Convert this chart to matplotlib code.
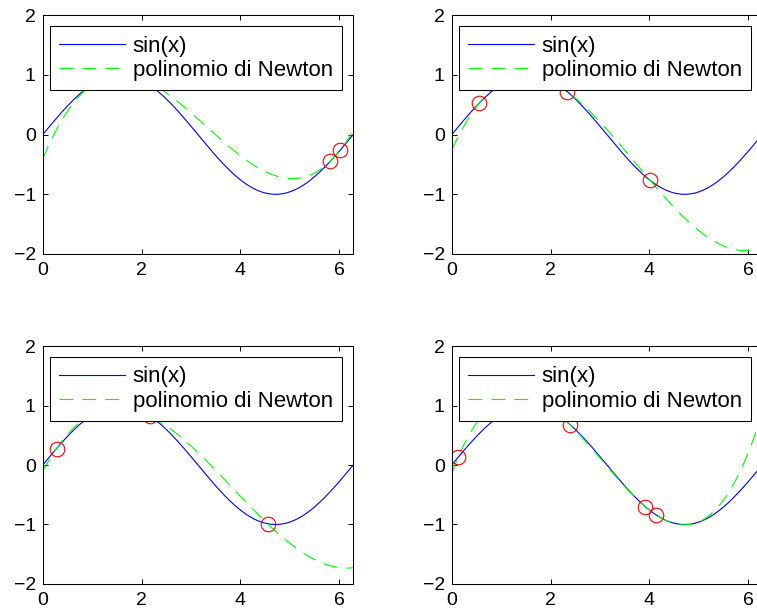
import numpy as np
import matplotlib
matplotlib.use("Agg")
import matplotlib.pyplot as plt

plt.rcParams['font.family'] = ['Liberation Sans', 'DejaVu Sans']
plt.rcParams['lines.scale_dashes'] = False

# nodi di interpolazione per ciascun grafico (le ordinate sono sin(x))
nodi_1 = [1.15, 1.6, 5.82, 6.02]
nodi_2 = [0.55, 1.42, 2.34, 4.01]
nodi_3 = [0.28, 1.15, 2.17, 4.55]
nodi_4 = [0.133, 2.40, 3.92, 4.13]
tutti_nodi = [nodi_1, nodi_2, nodi_3, nodi_4]

etichette = ["sin(x)", "polinomio di Newton"]
xticks = [0, 2, 4, 6]
yticks = [-2, -1, 0, 1, 2]


def differenze_divise(xn, yn):
    c = np.array(yn, dtype=float)
    n = len(xn)
    for j in range(1, n):
        c[j:] = (c[j:] - c[j - 1:-1]) / (xn[j:] - xn[:n - j])
    return c


def newton_eval(c, xn, x):
    p = np.full_like(x, c[-1])
    for k in range(len(c) - 2, -1, -1):
        p = p * (x - xn[k]) + c[k]
    return p


x = np.linspace(0, 2 * np.pi, 500)

fig = plt.figure(figsize=(7.57, 6.11), dpi=100)
# posizioni [left, bottom, width, height] in frazioni della figura
posizioni = [
    [0.0564, 0.5843, 0.4102, 0.3907],
    [0.5967, 0.5843, 0.4102, 0.3907],
    [0.0564, 0.0442, 0.4102, 0.3895],
    [0.5967, 0.0442, 0.4102, 0.3895],
]

for pos, nodi in zip(posizioni, tutti_nodi):
    ax = fig.add_axes(pos)
    xn = np.array(nodi)
    yn = np.sin(xn)
    c = differenze_divise(xn, yn)

    ax.plot(x, np.sin(x), color='#0000ff', lw=0.8, label=etichette[0])
    ax.plot(x, newton_eval(c, xn, x), color='#00ff00', lw=0.8,
            dashes=(10, 6.5), label=etichette[1])
    ax.plot(xn, yn, 'o', color='#ff0000', mfc='none', ms=10.5, mew=0.8)

    ax.set_xlim(0, 2 * np.pi)
    ax.set_ylim(-2, 2)
    ax.set_xticks(xticks)
    ax.set_yticks(yticks)
    ax.tick_params(direction='in', top=True, right=True, length=3.5,
                   width=0.7, labelsize=14)
    ax.tick_params(axis='x', pad=5.5)
    ax.tick_params(axis='y', pad=5)
    for s in ax.spines.values():
        s.set_linewidth(0.75)

    leg = ax.legend(loc='upper right', fontsize=16, handlelength=2.95,
                    handletextpad=0.35, labelspacing=0.15, borderpad=0.42,
                    borderaxespad=0.5, fancybox=False, framealpha=1,
                    edgecolor='black')
    leg.get_frame().set_linewidth(0.75)

plt.savefig("out.png", dpi=100)
